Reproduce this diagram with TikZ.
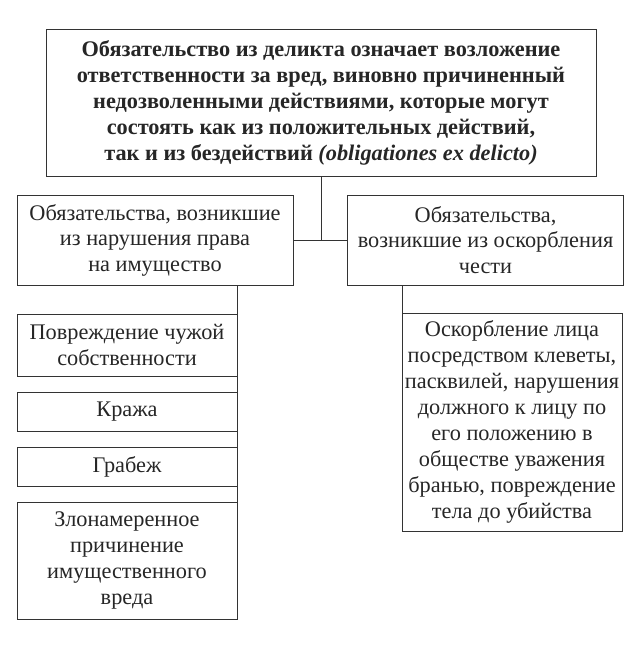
\documentclass[tikz,border=0pt]{standalone}
\usepackage{fontspec}
\setmainfont{Liberation Serif}
\usetikzlibrary{positioning}
\tikzset{
    box/.style={
	anchor=center,
	rectangle,
	draw=black!80,
	line width=0.8pt,
	text=black!85,
	align=center,
	inner sep=0pt,
	outer sep=0pt
    },
    head/.style={
	box,
	font=\fontsize{22.3}{26}\selectfont\bfseries,
	minimum width=550pt,
	minimum height=147pt
    },
    branch/.style={
	box,
	font=\fontsize{22.3}{25.5}\selectfont,
	minimum width=276pt,
	minimum height=90pt
    },
    leaf/.style={
	box,
	font=\fontsize{22.3}{26}\selectfont,
	minimum width=220pt
    },
    link/.style={
	draw=black!80,
	line width=0.8pt
    },
}

\begin{document}
\begin{tikzpicture}[x=1pt,y=-1pt,node distance=16pt]
    \useasboundingbox (0,0) rectangle (642,671);

    \node[head] (DELICT) at (321,102.5) {%
	Обязательство из деликта означает возложение\\
	ответственности за вред, виновно причиненный\\
	недозволенными действиями, которые могут\\
	состоять как из положительных действий,\\
	так и из бездействий \textit{(obligationes ex delicto)}};

    \node[branch] (PROPERTY) at (155,240) {%
	Обязательства, возникшие\\
	из нарушения права\\
	на имущество};

    \node[branch] (HONOUR) at (485.5,240) {%
	Обязательства,\\
	возникшие из оскорбления\\
	чести};

    \node[leaf, minimum height=62pt] (DAMAGE) at (127,345) {%
	Повреждение чужой\\
	собственности};
    \node[leaf, minimum height=39pt, below=of DAMAGE] (THEFT) {Кража};
    \node[leaf, minimum height=39pt, below=of THEFT] (ROBBERY) {Грабеж};
    \node[leaf, minimum height=117pt, below=of ROBBERY] (MALICE) {%
	Злонамеренное\\
	причинение\\
	имущественного\\
	вреда};

    \node[leaf, minimum height=218pt] (INSULT) at (512,422) {%
	Оскорбление лица\\
	посредством клеветы,\\
	пасквилей, нарушения\\
	должного к лицу по\\
	его положению в\\
	обществе уважения\\
	бранью, повреждение\\
	тела до убийства};

    \coordinate (JOIN) at (DELICT.south |- PROPERTY.east);

    \path[link] (DELICT) -- (JOIN);
    \path[link] (PROPERTY) -- (HONOUR);
    \path[link] (PROPERTY.south -| MALICE.east) -- (MALICE.south east);
    \path[link] (HONOUR.south -| INSULT.west) -- (INSULT.north west);
\end{tikzpicture}
\end{document}
